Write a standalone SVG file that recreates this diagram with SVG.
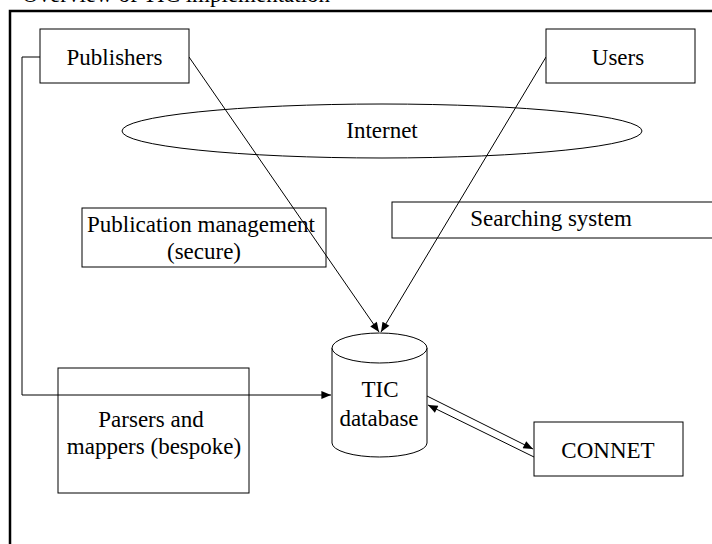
<svg xmlns="http://www.w3.org/2000/svg" width="712" height="544" viewBox="0 0 712 544">
<style>
  .box { fill: #ffffff; stroke: #000000; stroke-width: 1; }
  .frame { fill: none; stroke: #000000; stroke-width: 2.5; }
  .edge { fill: none; stroke: #000000; stroke-width: 1; }
  text { font-family: "Liberation Serif", "Times New Roman", serif; font-size: 23px; fill: #000000; text-anchor: middle; }
  .title { text-anchor: start; font-size: 23px; }
</style>
<defs>
  <marker id="arrow" viewBox="0 0 12 10" refX="12" refY="5" markerWidth="12" markerHeight="8" markerUnits="userSpaceOnUse" orient="auto">
    <path d="M0,0 L12,5 L0,10 Z" fill="#000000"/>
  </marker>
</defs>

<rect width="712" height="544" fill="#ffffff"/>
<text class="title" x="22" y="2">Overview of TIC implementation</text>
<path class="frame" d="M10,544 L10,11 L712,11"/>

<g id="internet">
  <ellipse class="box" cx="382" cy="131" rx="260" ry="27"/>
  <text x="382" y="138">Internet</text>
</g>

<g id="publication-management">
  <rect class="box" x="82" y="208" width="244" height="59"/>
  <text x="201" y="232">Publication management</text>
  <text x="204" y="259">(secure)</text>
</g>

<g id="searching-system">
  <rect class="box" x="392" y="202" width="330" height="36"/>
  <text x="551" y="226">Searching system</text>
</g>

<g id="parsers">
  <rect class="box" x="58" y="368" width="191" height="125"/>
  <text x="151" y="427">Parsers and</text>
  <text x="154" y="454">mappers (bespoke)</text>
</g>

<g id="connectors">
  <path class="edge" d="M40,57 L22,57 L22,395 L331,395" marker-end="url(#arrow)"/>
  <path class="edge" d="M189,57 L379,332" marker-end="url(#arrow)"/>
  <path class="edge" d="M546,57 L381,332" marker-end="url(#arrow)"/>
  <path class="edge" d="M427,396 L533,449" marker-end="url(#arrow)"/>
  <path class="edge" d="M534,457 L428,405" marker-end="url(#arrow)"/>
</g>

<g id="publishers">
  <rect class="box" x="40" y="29" width="149" height="54"/>
  <text x="114.5" y="65">Publishers</text>
</g>

<g id="users">
  <rect class="box" x="546" y="29" width="149" height="54"/>
  <text x="618" y="65">Users</text>
</g>

<g id="tic-database">
  <path class="box" d="M332,348 L332,443 A47.5,14 0 0 0 427,443 L427,348"/>
  <ellipse class="box" cx="379.5" cy="348" rx="47.5" ry="15"/>
  <text x="380" y="397">TIC</text>
  <text x="379" y="426">database</text>
</g>

<g id="connet">
  <rect class="box" x="534" y="422" width="149" height="54"/>
  <text x="608" y="458">CONNET</text>
</g>
</svg>
